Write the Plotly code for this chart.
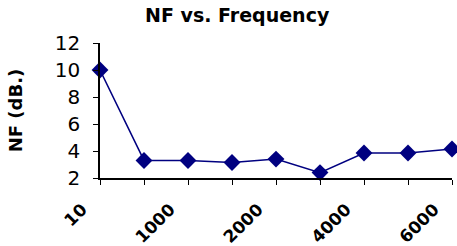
import plotly.graph_objects as go

categories = ["10", "500", "1000", "1500", "2000", "3000", "4000", "5000", "6000"]
tick_labels = ["10", "", "1000", "", "2000", "", "4000", "", "6000"]
nf_db = [10.0, 3.3, 3.3, 3.15, 3.4, 2.4, 3.85, 3.85, 4.15]

x_idx = list(range(len(categories)))
bold_ticks = ["<b>%s</b>" % t if t else "" for t in tick_labels]

fig = go.Figure()
fig.add_trace(go.Scatter(
    x=x_idx, y=nf_db, mode="lines+markers",
    line=dict(color="#000080", width=1.5),
    marker=dict(symbol="diamond", size=13, color="#000080"),
    cliponaxis=False,
    hovertext=categories,
))

fig.update_layout(
    width=457, height=246,
    margin=dict(l=100, r=5, t=43, b=68, autoexpand=False),
    paper_bgcolor="white", plot_bgcolor="white",
    showlegend=False,
    font=dict(family="DejaVu Sans, sans-serif", color="black"),
    title=dict(text="<b>NF vs. Frequency</b>", x=0.519, xanchor="center",
               y=0.965, yanchor="top", font=dict(size=19)),
    xaxis=dict(
        range=[0, 8], tickvals=x_idx, ticktext=bold_ticks,
        tickangle=-45, ticks="outside", ticklen=5, tickcolor="black",
        showline=True, linecolor="black", linewidth=1.5,
        showgrid=False, zeroline=False, automargin=False,
        tickfont=dict(size=17),
        ticklabelstandoff=8,
        ticklabelshift=-18,
    ),
    yaxis=dict(
        range=[2, 12], dtick=2, ticks="outside", ticklen=5, tickcolor="black",
        showline=True, linecolor="black", linewidth=1.5,
        showgrid=False, zeroline=False, automargin=False,
        tickfont=dict(size=20),
        ticklabelstandoff=9,
        title=dict(text="<b>NF (dB.)</b>", font=dict(size=18), standoff=27),
    ),
)

fig.write_html("out.html", config={"displayModeBar": False},
               post_script="document.body.style.margin='0';")
